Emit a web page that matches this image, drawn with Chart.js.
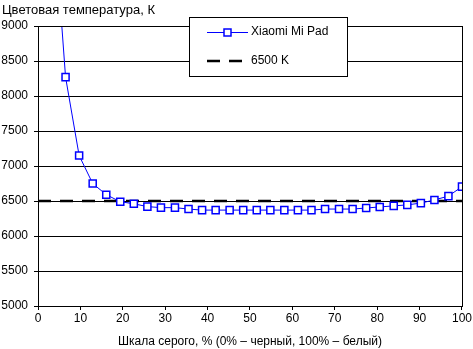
<!DOCTYPE html>
<html>
<head>
<meta charset="utf-8">
<script src="https://cdn.jsdelivr.net/npm/chart.js@4"></script>
<style>
  html, body { margin: 0; padding: 0; background: #fff; }
  #wrap { width: 473px; height: 349px; }
</style>
</head>
<body>
<div id="wrap"><canvas id="tempChart" width="473" height="349"></canvas></div>
<script>
const grayPercent = [3.2, 6.5, 9.7, 12.9, 16.1, 19.4, 22.6, 25.8, 29.0, 32.3, 35.5, 38.7, 41.9, 45.2, 48.4, 51.6,
  54.8, 58.1, 61.3, 64.5, 67.7, 71.0, 74.2, 77.4, 80.6, 83.9, 87.1, 90.3, 93.5, 96.8, 100];
const xiaomiTemp = [11000, 8270, 7150, 6750, 6590, 6490, 6460, 6420, 6405, 6405, 6385, 6370, 6370, 6370, 6370, 6370,
  6370, 6370, 6370, 6370, 6385, 6385, 6385, 6400, 6415, 6430, 6445, 6470, 6515, 6570, 6705];
const refX = [0, 100];
const refTemp = [6500, 6500];
const seriesNames = ['Xiaomi Mi Pad', '6500 K'];
const yTitle = 'Цветовая температура, К';
const xTitle = 'Шкала серого, % (0% – черный, 100% – белый)';

const FONT = '"Liberation Sans", Arial, sans-serif';

// frame, title and the boxed legend inside the plot
const extras = {
  id: 'extras',
  afterDraw(chart) {
    const ctx = chart.ctx;
    const a = chart.chartArea;
    ctx.save();
    ctx.strokeStyle = '#000';
    ctx.lineWidth = 1;
    ctx.strokeRect(Math.round(a.left) + 0.5, Math.round(a.top) + 0.5,
      Math.round(a.right - a.left), Math.round(a.bottom - a.top));

    ctx.fillStyle = '#000';
    ctx.font = '13px ' + FONT;
    ctx.textBaseline = 'middle';
    ctx.textAlign = 'left';
    ctx.fillText(yTitle, 2, 10);

    // legend
    const bx = 189.5, by = 17.5, bw = 158, bh = 59;
    ctx.fillStyle = '#fff';
    ctx.fillRect(bx, by, bw, bh);
    ctx.strokeRect(bx, by, bw, bh);

    const ds = chart.data.datasets;
    ctx.strokeStyle = ds[0].borderColor;
    ctx.lineWidth = 1;
    ctx.beginPath();
    ctx.moveTo(207, 32.5);
    ctx.lineTo(248, 32.5);
    ctx.stroke();
    ctx.fillStyle = '#fff';
    ctx.lineWidth = ds[0].pointBorderWidth;
    ctx.fillRect(224, 29, 7, 7);
    ctx.strokeRect(224, 29, 7, 7);

    ctx.strokeStyle = ds[1].borderColor;
    ctx.lineWidth = ds[1].borderWidth;
    ctx.setLineDash(ds[1].borderDash);
    ctx.beginPath();
    ctx.moveTo(207, 61);
    ctx.lineTo(242, 61);
    ctx.stroke();
    ctx.setLineDash([]);

    ctx.fillStyle = '#000';
    ctx.font = '12px ' + FONT;
    ctx.fillText(ds[0].label, 251, 32);
    ctx.fillText(ds[1].label, 251, 61);
    ctx.restore();
  }
};

new Chart(document.getElementById('tempChart'), {
  type: 'line',
  data: {
    datasets: [{
      label: seriesNames[0],
      data: grayPercent.map((x, i) => ({ x: x, y: xiaomiTemp[i] })),
      borderColor: '#0000ff',
      borderWidth: 1,
      pointStyle: 'rect',
      pointRadius: 5,
      pointBorderWidth: 1.5,
      pointBorderColor: '#0000ff',
      pointBackgroundColor: '#ffffff',
      tension: 0
    }, {
      label: seriesNames[1],
      data: refX.map((x, i) => ({ x: x, y: refTemp[i] })),
      borderColor: '#000000',
      borderWidth: 2.5,
      borderDash: [13, 9],
      pointRadius: 0
    }]
  },
  plugins: [extras],
  options: {
    responsive: false,
    animation: false,
    layout: { padding: { top: 26, right: 10, left: 0, bottom: 0 } },
    plugins: {
      legend: { display: false },
      tooltip: { enabled: false }
    },
    scales: {
      x: {
        type: 'linear',
        min: 0,
        max: 100,
        afterFit: (s) => { s.height = 43; },
        ticks: { stepSize: 10, color: '#000', font: { family: FONT, size: 12 }, padding: 1, maxRotation: 0 },
        grid: { drawOnChartArea: false, drawTicks: true, tickLength: 4, color: '#000' },
        border: { color: '#000' },
        title: { display: true, text: xTitle, color: '#000', font: { family: FONT, size: 12 }, padding: { top: 1, bottom: 0 } }
      },
      y: {
        min: 5000,
        max: 9000,
        afterFit: (s) => { s.width = 38; },
        ticks: { stepSize: 500, color: '#000', font: { family: FONT, size: 12 }, padding: 6, callback: (v) => String(v) },
        grid: { color: '#000', tickLength: 4 },
        border: { color: '#000' }
      }
    }
  }
});
</script>
</body>
</html>
